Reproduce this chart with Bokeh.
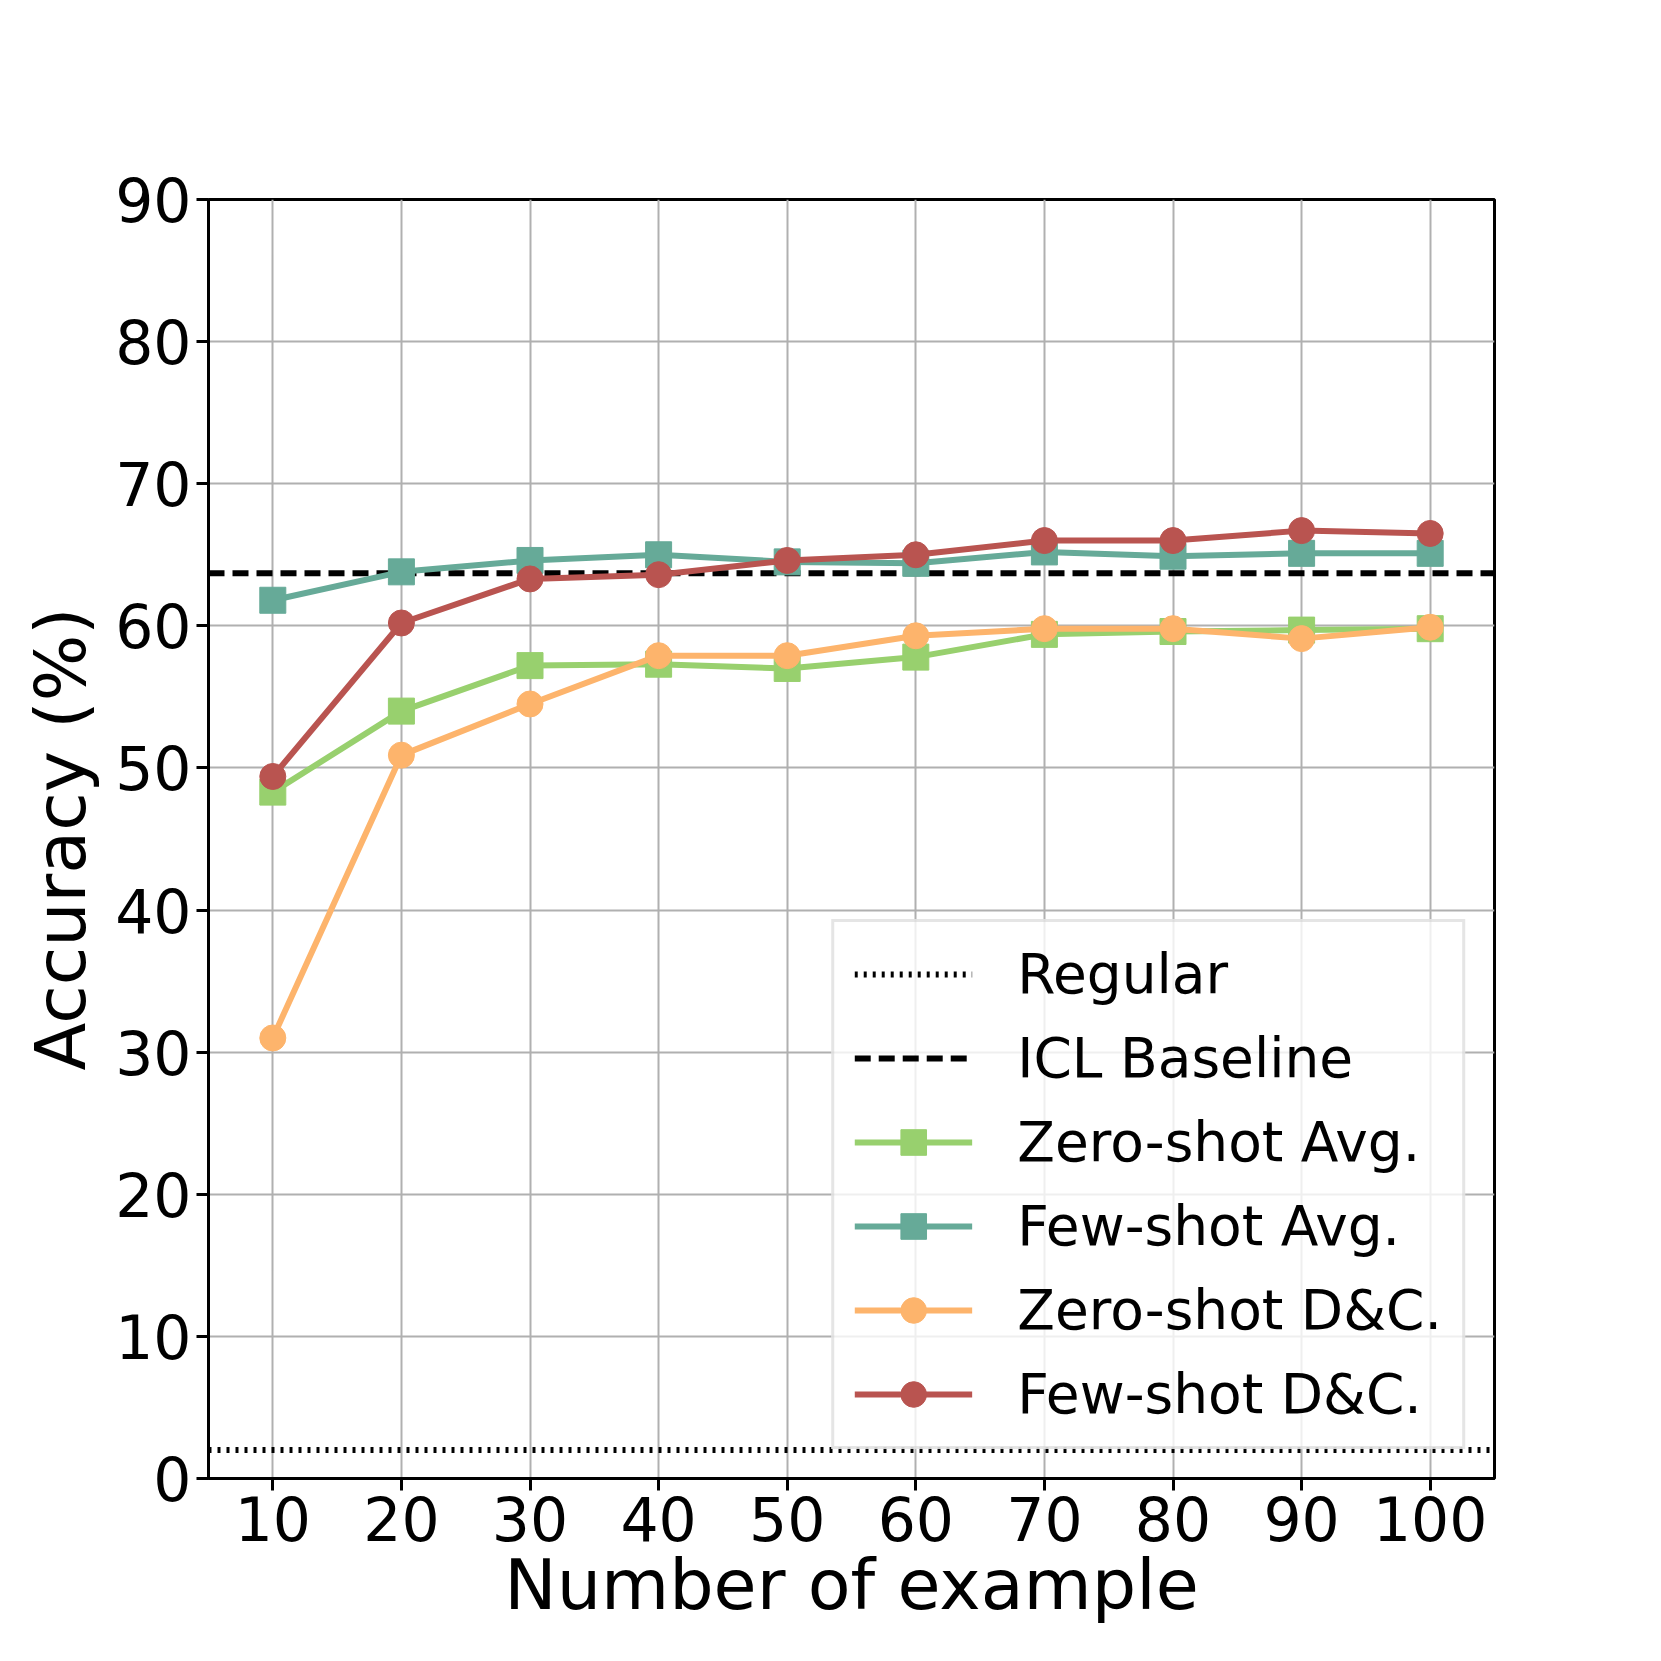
from bokeh.plotting import figure
from bokeh.embed import file_html
from bokeh.resources import INLINE
from bokeh.models import FixedTicker

examples = [10, 20, 30, 40, 50, 60, 70, 80, 90, 100]
zero_avg = [48.3, 54.0, 57.2, 57.3, 57.0, 57.8, 59.4, 59.6, 59.7, 59.8]
few_avg = [61.8, 63.8, 64.6, 65.0, 64.5, 64.4, 65.2, 64.9, 65.1, 65.1]
zero_dc = [31.0, 50.9, 54.5, 57.9, 57.9, 59.3, 59.8, 59.8, 59.1, 59.9]
few_dc = [49.4, 60.2, 63.3, 63.6, 64.6, 65.0, 66.0, 66.0, 66.7, 66.5]
regular = 2.0
icl_baseline = 63.7
y_ticks = [0, 10, 20, 30, 40, 50, 60, 70, 80, 90]

FONT = "DejaVu Sans"

p = figure(width=1640, height=1640, x_range=(5, 105), y_range=(0, 90),
           output_backend="svg", toolbar_location=None,
           min_border_left=208, min_border_right=146, min_border_top=199, min_border_bottom=162,
           x_axis_label="Number of example", y_axis_label="Accuracy (%)")
p.outline_line_color = "black"
p.outline_line_width = 3
p.background_fill_color = "white"

p.line([5, 105], [regular, regular], line_dash="3 6", line_width=6, line_color="black", legend_label="Regular")
p.line([5, 105], [icl_baseline, icl_baseline], line_dash="16 8", line_width=6, line_color="black", legend_label="ICL Baseline")

series = [
    (zero_avg, "#98d06e", "square", "Zero-shot Avg."),
    (few_avg, "#66aa98", "square", "Few-shot Avg."),
    (zero_dc, "#fdb46c", "circle", "Zero-shot D&C."),
    (few_dc, "#b95450", "circle", "Few-shot D&C."),
]
for vals, col, mk, lab in series:
    p.line(examples, vals, line_width=6, line_color=col, legend_label=lab)
    p.scatter(examples, vals, marker=mk, size=26, color=col, legend_label=lab)

p.xaxis.ticker = FixedTicker(ticks=examples)
p.yaxis.ticker = FixedTicker(ticks=y_ticks)
for ax in (p.xaxis, p.yaxis):
    ax.major_label_text_font = FONT
    ax.major_label_text_font_size = "60px"
    ax.major_label_text_color = "black"
    ax.axis_label_text_font = FONT
    ax.axis_label_text_font_size = "70px"
    ax.axis_label_text_font_style = "normal"
    ax.axis_label_text_color = "black"
    ax.axis_line_width = 3
    ax.major_tick_line_width = 3
    ax.major_tick_out = 12
    ax.major_tick_in = 0
    ax.minor_tick_line_color = None
p.xaxis.axis_label_standoff = 0
p.yaxis.axis_label_standoff = 10

p.grid.grid_line_color = "#b0b0b0"
p.grid.grid_line_width = 2

p.legend.location = "bottom_right"
p.legend.margin = 29
p.legend.padding = 20
p.legend.label_text_font = FONT
p.legend.label_text_font_size = "55px"
p.legend.label_text_color = "black"
p.legend.glyph_width = 118
p.legend.glyph_height = 64
p.legend.label_standoff = 45
p.legend.spacing = 20
p.legend.border_line_color = "#cccccc"
p.legend.border_line_width = 3
p.legend.background_fill_alpha = 0.8

open("out.html", "w").write(file_html(p, INLINE))
